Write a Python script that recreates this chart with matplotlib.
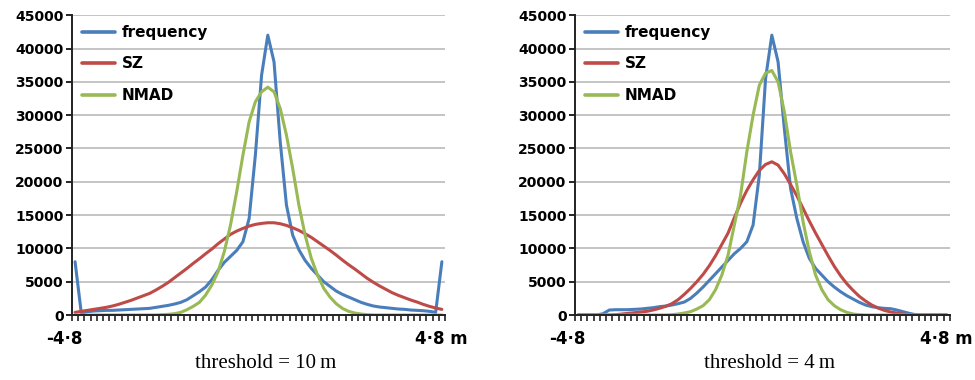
import matplotlib.pyplot as plt
import numpy as np

# category bins between -4.8 m and 4.8 m (60 bins)
n_bins = 60

freq_10 = [8000, 300, 500, 600, 650, 700, 700, 750, 800, 850,
           900, 950, 1000, 1150, 1300, 1450, 1650, 1900, 2300, 2900,
           3500, 4200, 5300, 6700, 7900, 8800, 9700, 11000, 14500, 24000,
           36000, 42000, 38000, 26000, 16500, 12000, 9800, 8200, 7000, 6000,
           5000, 4300, 3600, 3100, 2700, 2300, 1900, 1600, 1350, 1200,
           1100, 1000, 900, 850, 750, 700, 650, 550, 400, 8000]
sz_10 = [400, 550, 700, 850, 1000, 1150, 1350, 1600, 1900, 2200,
         2550, 2900, 3250, 3750, 4300, 4900, 5600, 6300, 7000, 7750,
         8450, 9200, 9900, 10700, 11400, 12100, 12600, 13000, 13350, 13600,
         13750, 13850, 13850, 13700, 13450, 13100, 12700, 12200, 11650, 11000,
         10350, 9700, 9000, 8250, 7550, 6900, 6200, 5500, 4900, 4350,
         3850, 3350, 2950, 2600, 2250, 1950, 1600, 1300, 1050, 850]
nmad_10 = [0, 0, 0, 0, 0, 0, 0, 0, 0, 0,
           0, 0, 0, 0, 50, 100, 200, 400, 800, 1300,
           1900, 3000, 4500, 6500, 9500, 13500, 18500, 24000, 29000, 32000,
           33500, 34200, 33500, 31000, 27000, 22000, 16500, 12000, 8500, 6000,
           4000, 2700, 1700, 1000, 550, 300, 150, 50, 0, 0,
           0, 0, 0, 0, 0, 0, 0, 0, 0, 0]

freq_4 = [0, 0, 0, 0, 200, 750, 800, 800, 800, 850,
          900, 1000, 1100, 1250, 1350, 1500, 1700, 1950, 2500, 3300,
          4200, 5200, 6200, 7200, 8200, 9200, 10000, 11000, 13500, 21000,
          35500, 42000, 38000, 28000, 19000, 14500, 11000, 8500, 7000, 6000,
          5000, 4200, 3500, 2900, 2400, 1900, 1500, 1250, 1100, 1000,
          950, 750, 500, 250, 50, 0, 0, 0, 0, 0]
sz_4 = [0, 0, 0, 0, 0, 0, 50, 150, 250, 350,
        450, 550, 750, 1000, 1300, 1700, 2300, 3100, 4000, 5000,
        6100, 7400, 8900, 10600, 12300, 14600, 16800, 18700, 20300, 21700,
        22600, 23000, 22500, 21200, 19600, 17900, 16000, 14100, 12300, 10600,
        8900, 7300, 5900, 4700, 3700, 2800, 2100, 1500, 1050, 700,
        450, 300, 150, 50, 0, 0, 0, 0, 0, 0]
nmad_4 = [0, 0, 0, 0, 0, 0, 0, 0, 0, 0,
          0, 0, 0, 0, 0, 50, 150, 300, 500, 900,
          1400, 2300, 3800, 6000, 9000, 13500, 18000, 24500, 30000, 34500,
          36300, 36700, 35000, 30500, 24500, 19500, 14000, 9500, 6000, 3800,
          2300, 1400, 800, 400, 150, 50, 0, 0, 0, 0,
          0, 0, 0, 0, 0, 0, 0, 0, 0, 0]

series_names = ['frequency', 'SZ', 'NMAD']
colors = ['#4a7ebb', '#be4b48', '#98b954']
yticks = [0, 5000, 10000, 15000, 20000, 25000, 30000, 35000, 40000, 45000]
captions = ['threshold = 10\u2009m', 'threshold = 4\u2009m']

fig = plt.figure(figsize=(9.75, 3.8), dpi=100)
ax1 = fig.add_axes([0.0738, 0.171, 0.3826, 0.789])
ax2 = fig.add_axes([0.5897, 0.171, 0.3846, 0.789])

panels = [(ax1, [freq_10, sz_10, nmad_10], captions[0]),
          (ax2, [freq_4, sz_4, nmad_4], captions[1])]

x = np.arange(n_bins)
for ax, data, cap in panels:
    for vals, name, c in zip(data, series_names, colors):
        ax.plot(x, vals, color=c, lw=2.2, label=name, solid_capstyle='round')
    ax.set_xlim(-0.5, n_bins - 0.5)
    ax.set_ylim(0, 45000)
    ax.set_yticks(yticks)
    ax.set_yticklabels([str(v) for v in yticks], fontweight='bold', fontsize=10)
    ax.set_xticks(np.arange(-0.5, n_bins, 1.0))
    ax.set_xticklabels([])
    ax.tick_params(axis='x', direction='out', length=4, width=1.2, color='#222222')
    ax.tick_params(axis='y', direction='out', length=4, width=1.2, pad=2)
    ax.yaxis.grid(True, color='#b4b4b4', lw=1.1)
    ax.set_axisbelow(True)
    for s in ['top', 'right']:
        ax.spines[s].set_visible(False)
    ax.spines['left'].set_linewidth(1.4)
    ax.spines['bottom'].set_linewidth(1.4)
    ax.spines['left'].set_color('#222222')
    ax.spines['bottom'].set_color('#222222')
    ax.text(-0.02, -0.05, '-4\u00b78', transform=ax.transAxes, ha='center', va='top',
            fontsize=12, fontweight='bold')
    ax.text(1.06, -0.05, '4\u00b78 m', transform=ax.transAxes, ha='right', va='top',
            fontsize=12, fontweight='bold')
    ax.text(0.52, -0.13, cap, transform=ax.transAxes, ha='center', va='top',
            fontsize=15, family='Liberation Serif')
    leg = ax.legend(loc='upper left', bbox_to_anchor=(0.0, 1.0), frameon=False,
                    handlelength=2.4, handletextpad=0.5, labelspacing=1.18,
                    borderaxespad=0.3)
    for t in leg.get_texts():
        t.set_fontweight('bold')
        t.set_fontsize(11)
    for ln in leg.get_lines():
        ln.set_linewidth(2.6)

fig.savefig('out.png', dpi=100, facecolor='white')
